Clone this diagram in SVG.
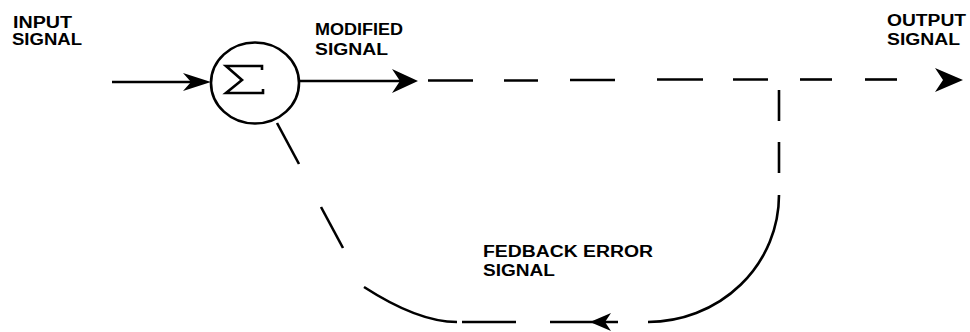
<svg xmlns="http://www.w3.org/2000/svg" width="970" height="332" viewBox="0 0 970 332">
<style>
.ln{stroke:#000;stroke-width:2.6;fill:none;stroke-linecap:butt}
.ah{fill:#000;stroke:none}
.lbl{font-family:"Liberation Sans",Arial,sans-serif;font-weight:bold;font-size:16px;fill:#000}
</style>
<rect width="970" height="332" fill="#fff"/>
<g id="summer">
<ellipse cx="255" cy="83" rx="44" ry="40.5" class="ln"/>
<path class="ln" d="M262,70 L262,66 L226,66 L242,80 L226,93 L263,93 L263,89" stroke-linejoin="miter"/>
</g>
<g id="label-input">
<text class="lbl" x="13" y="28" textLength="59" lengthAdjust="spacingAndGlyphs">INPUT</text>
<text class="lbl" x="12" y="44.5" textLength="70" lengthAdjust="spacingAndGlyphs">SIGNAL</text>
</g>
<g id="label-modified">
<text class="lbl" x="315" y="35" textLength="88" lengthAdjust="spacingAndGlyphs">MODIFIED</text>
<text class="lbl" x="315" y="55" textLength="73" lengthAdjust="spacingAndGlyphs">SIGNAL</text>
</g>
<g id="label-output">
<text class="lbl" x="887" y="26" textLength="79" lengthAdjust="spacingAndGlyphs">OUTPUT</text>
<text class="lbl" x="887" y="45" textLength="73" lengthAdjust="spacingAndGlyphs">SIGNAL</text>
</g>
<g id="label-feedback">
<text class="lbl" x="483" y="256.5" textLength="170" lengthAdjust="spacingAndGlyphs">FEDBACK ERROR</text>
<text class="lbl" x="483" y="276" textLength="72" lengthAdjust="spacingAndGlyphs">SIGNAL</text>
</g>
<g id="connectors">
<line class="ln" x1="112" y1="82" x2="204" y2="82"/>
<path class="ah" d="M211,82 L183,73 L191,82 L183,91 Z"/>
<line class="ln" x1="299" y1="81" x2="405" y2="81"/>
<path class="ah" d="M418,81 L392,69 L400,81 L392,93 Z"/>
<line class="ln" x1="428" y1="80.5" x2="473" y2="80.5"/>
<line class="ln" x1="504" y1="80.5" x2="538" y2="80.5"/>
<line class="ln" x1="570" y1="80" x2="615" y2="80"/>
<line class="ln" x1="657" y1="79.5" x2="703" y2="79.5"/>
<line class="ln" x1="733" y1="79.5" x2="768" y2="79.5"/>
<line class="ln" x1="800" y1="79.5" x2="832" y2="79.5"/>
<line class="ln" x1="865" y1="79.5" x2="897" y2="79.5"/>
<path class="ah" d="M963,80 L935,68 L943,80 L935,92 Z"/>
<line class="ln" x1="779" y1="90" x2="779" y2="121"/>
<line class="ln" x1="779" y1="142" x2="779" y2="173"/>
<path class="ln" d="M779,195 A131,127 0 0 1 648,322"/>
<line class="ln" x1="550" y1="322" x2="618" y2="322"/>
<path class="ah" d="M590,322 L611,313 L605,322 L611,331 Z"/>
<line class="ln" x1="462" y1="322" x2="516" y2="322"/>
<path class="ln" d="M364,287 Q418,322 457,322"/>
<line class="ln" x1="277" y1="123" x2="299" y2="164"/>
<line class="ln" x1="321" y1="207" x2="343" y2="248"/>
</g>
</svg>
